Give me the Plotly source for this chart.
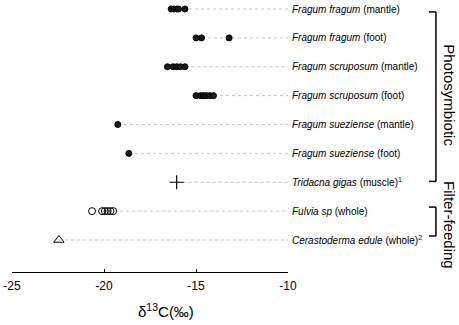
import plotly.graph_objects as go

# ---- data ----
species = ["Fragum fragum", "Fragum fragum", "Fragum scruposum", "Fragum scruposum",
           "Fragum sueziense", "Fragum sueziense", "Tridacna gigas", "Fulvia sp",
           "Cerastoderma edule"]
tissue = ["(mantle)", "(foot)", "(mantle)", "(foot)", "(mantle)", "(foot)",
          "(muscle)", "(whole)", "(whole)"]
footnote = ["", "", "", "", "", "", "1", "", "2"]

ff_mantle = [-16.35, -16.2, -16.05, -15.95, -15.6]
ff_foot = [-15.0, -14.7, -13.2]
fs_mantle = [-16.55, -16.25, -16.05, -15.85, -15.6]
fs_foot = [-15.0, -14.75, -14.6, -14.45, -14.25, -14.05]
fz_mantle = [-19.25]
fz_foot = [-18.65]
tridacna = [-16.05]
fulvia = [-20.1, -19.95, -19.8, -19.65, -19.5]
fulvia_other = [-20.65]
cerastoderma = [-22.45]

groups = ["Photosymbiotic", "Filter-feeding"]
x_ticks = [-25, -20, -15, -10]

rows = [ff_mantle, ff_foot, fs_mantle, fs_foot, fz_mantle, fz_foot,
        tridacna, fulvia, cerastoderma]

fig = go.Figure()

# dotted guide lines
for i, vals in enumerate(rows):
    fig.add_trace(go.Scatter(x=[min(vals), x_ticks[-1]], y=[i, i], mode="lines",
                             line=dict(color="#c4c4c4", width=1, dash="dot"),
                             hoverinfo="skip", showlegend=False))

filled = dict(symbol="circle", size=6, color="#1a1a1a", line=dict(color="black", width=1))
for i in range(6):
    fig.add_trace(go.Scatter(x=rows[i], y=[i] * len(rows[i]), mode="markers",
                             marker=filled, showlegend=False))

fig.add_trace(go.Scatter(x=tridacna, y=[6], mode="markers", showlegend=False,
                         marker=dict(symbol="cross-thin-open", size=10, color="black",
                                     line=dict(color="black", width=1.2))))
fig.add_trace(go.Scatter(x=fulvia + fulvia_other, y=[7] * (len(fulvia) + 1),
                         mode="markers", showlegend=False,
                         marker=dict(symbol="circle-open", size=7, color="black",
                                     line=dict(color="black", width=1))))
fig.add_trace(go.Scatter(x=cerastoderma, y=[8], mode="markers", showlegend=False,
                         marker=dict(symbol="triangle-up-open", size=9, color="black",
                                     line=dict(color="black", width=1))))

FONT = "Liberation Sans, Arial, Helvetica, sans-serif"
ann = []
for i in range(len(species)):
    txt = "<i>%s</i> %s" % (species[i], tissue[i])
    if footnote[i]:
        txt += "<sup>%s</sup>" % footnote[i]
    ann.append(dict(x=x_ticks[-1], y=i, xref="x", yref="y", text=txt, showarrow=False,
                    xanchor="left", yanchor="middle", xshift=2,
                    font=dict(family=FONT, size=10, color="black")))

# brackets
bx = 1.536
bl = 1.511
spans = [(0.1, 5.97), (6.86, 7.86)]
shapes = []
for (a, b) in spans:
    shapes.append(dict(type="line", xref="paper", yref="y", x0=bx, x1=bx, y0=a, y1=b,
                       line=dict(color="black", width=1.5)))
    shapes.append(dict(type="line", xref="paper", yref="y", x0=bl, x1=bx, y0=a, y1=a,
                       line=dict(color="black", width=1.5)))
    shapes.append(dict(type="line", xref="paper", yref="y", x0=bl, x1=bx, y0=b, y1=b,
                       line=dict(color="black", width=1.5)))
for g, (a, b) in zip(groups, [(0, 6), (7, 8)]):
    ann.append(dict(x=1.585, y=(a + b) / 2, xref="paper", yref="y", text=g,
                    showarrow=False, textangle=90, xanchor="center", yanchor="middle",
                    font=dict(family=FONT, size=15, color="black")))

ann.append(dict(x=0.558, y=-0.14, xref="paper", yref="paper",
                text="δ<sup>13</sup>C(‰)", showarrow=False,
                xanchor="center", yanchor="middle",
                font=dict(family=FONT, size=15, color="black")))

fig.update_layout(
    width=459, height=325,
    margin=dict(l=12, r=171, t=0, b=53),
    paper_bgcolor="white", plot_bgcolor="white",
    annotations=ann, shapes=shapes,
    xaxis=dict(range=[-25, -10], tickvals=x_ticks, ticktext=[str(v) for v in x_ticks],
               showgrid=False, zeroline=False, showline=True, linecolor="black",
               linewidth=1, ticks="inside", ticklen=3, tickcolor="black",
               ticklabelstandoff=3,
               tickfont=dict(family=FONT, size=12, color="black")),
    yaxis=dict(range=[9.108, -0.312], visible=False, showgrid=False, zeroline=False),
)

fig.write_html("out.html", config={"displayModeBar": False},
               post_script="document.body.style.margin='0';document.body.style.padding='0';")
